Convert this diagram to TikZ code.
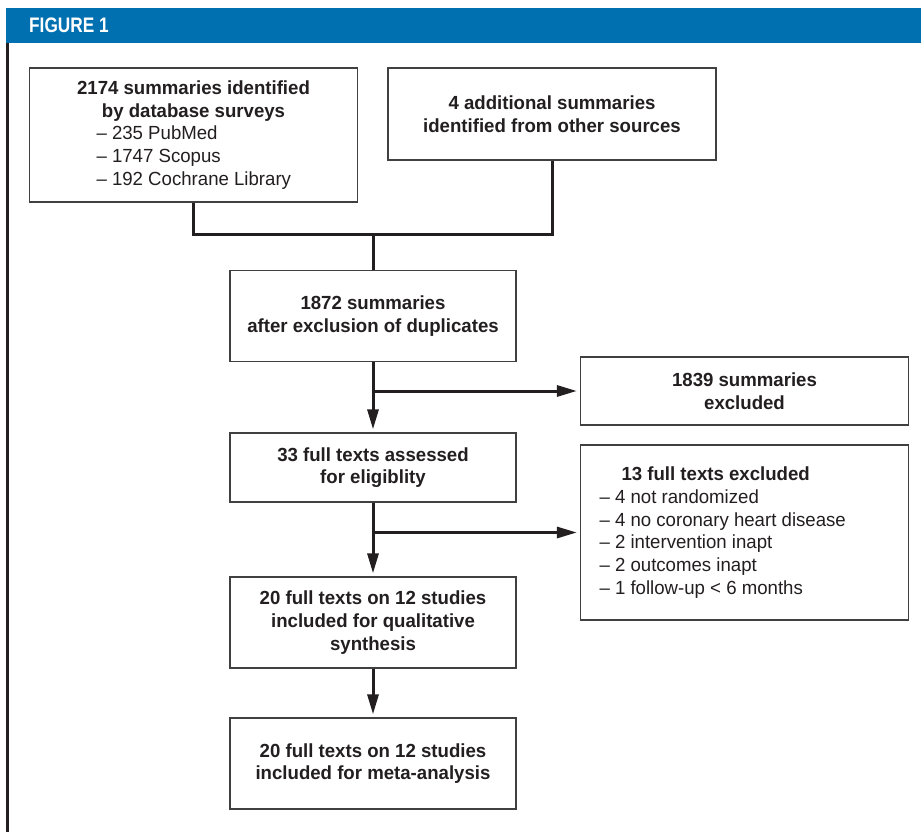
\documentclass[tikz,border=0pt]{standalone}
\usepackage{fontspec}
\setmainfont{Liberation Sans}[FakeStretch=0.98]
\newfontfamily\kopffont{Liberation Sans}[FakeStretch=0.82]
\usetikzlibrary{arrows.meta}
\definecolor{figblue}{RGB}{0,112,176}
\definecolor{ink}{RGB}{35,31,32}
\definecolor{rahmen}{RGB}{64,64,64}
\newcommand{\zeile}[2][194pt]{\makebox[#1][l]{\mdseries #2}}

\tikzset{
    box/.style={draw=rahmen, line width=1.3pt, fill=white, align=center, text=ink,
        inner sep=0pt, font=\fontsize{19}{22.7}\selectfont\bfseries},
    breit/.style={box, minimum width=328pt},
    schmal/.style={box, minimum width=286pt},
    titel/.style={anchor=west, inner sep=0pt, text=white,
        font=\kopffont\bfseries\fontsize{21}{21}\selectfont},
    link/.style={draw=ink, line width=3pt},
    pfeil/.style={link, -{Triangle[length=20pt,width=11pt]}, shorten >=3pt}
}

\begin{document}
\begin{tikzpicture}[x=1pt, y=-1pt]
    \useasboundingbox (0,0) rectangle (921,832);
    \fill[white] (0,0) rectangle (921,832);
    \fill[figblue] (6,8) rectangle (921,43);
    \draw[ink, line width=2.6pt] (7.3,43) -- (7.3,832);
    \path node[titel] (kopf) at (29,25.5) {FIGURE 1}
        node[breit, minimum height=134pt] (db) at (193.5,135) {2174 summaries identified\\
            by database surveys\\
            \zeile{– 235 PubMed}\\
            \zeile{– 1747 Scopus}\\
            \zeile{– 192 Cochrane Library}}
        node[breit, minimum height=92pt] (andere) at (552,114) {4 additional summaries\\identified from other sources}
        node[schmal, minimum height=91pt] (dedup) at (373,316) {1872 summaries\\after exclusion of duplicates}
        node[breit, minimum height=68pt] (ausg1) at (744.5,391) {1839 summaries\\excluded}
        node[schmal, minimum height=69pt] (voll) at (373,467.5) {33 full texts assessed\\for eligiblity}
        node[breit, minimum height=175pt] (ausg2) at (744.5,532.5) {\zeile[290pt]{\hspace*{22pt}\bfseries 13 full texts excluded}\\
            \zeile[290pt]{– 4 not randomized}\\
            \zeile[290pt]{– 4 no coronary heart disease}\\
            \zeile[290pt]{– 2 intervention inapt}\\
            \zeile[290pt]{– 2 outcomes inapt}\\
            \zeile[290pt]{– 1 follow-up < 6 months}}
        node[schmal, minimum height=91pt] (quali) at (373,622.5) {20 full texts on 12 studies\\included for qualitative\\synthesis}
        node[schmal, minimum height=91pt] (meta) at (373,763.5) {20 full texts on 12 studies\\included for meta-analysis};
    \coordinate (merge) at (373,234);
    \draw[link] (db.south) |- (merge) -| (andere.south);
    \draw[link] (merge) -- (dedup.north);
    \draw[pfeil] (dedup.south) -- (voll.north);
    \draw[pfeil] (dedup.south |- ausg1.west) -- (ausg1.west);
    \draw[pfeil] (voll.south) -- (quali.north);
    \draw[pfeil] (voll.south |- ausg2.west) -- (ausg2.west);
    \draw[pfeil] (quali.south) -- (meta.north);
\end{tikzpicture}
\end{document}
